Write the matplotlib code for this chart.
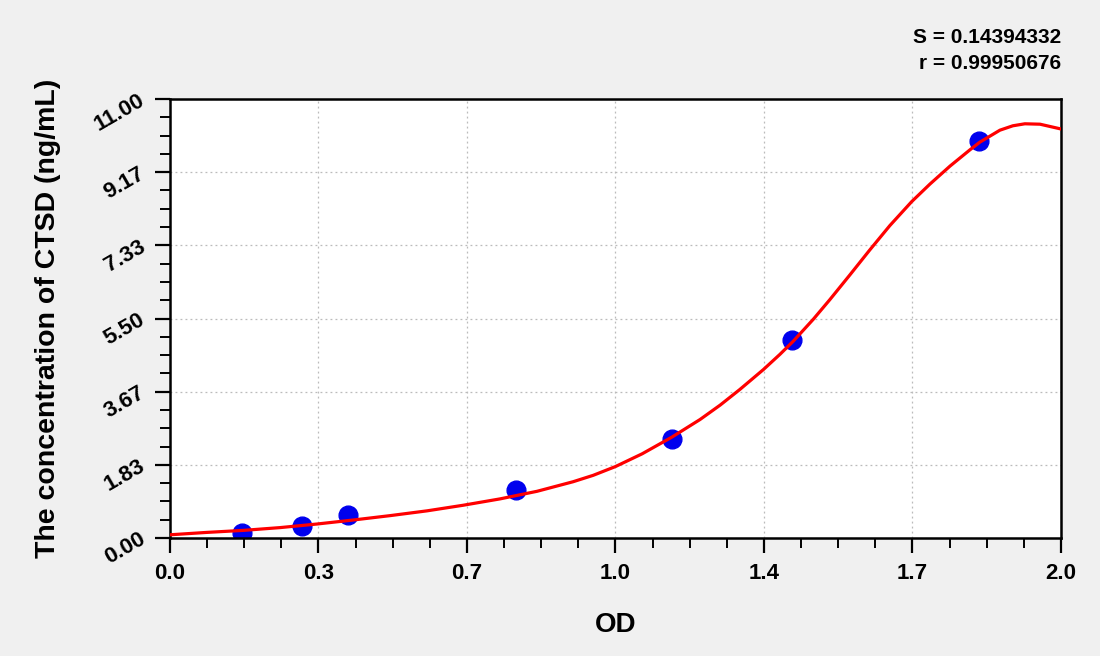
import numpy as np
import matplotlib
matplotlib.use("Agg")
import matplotlib.pyplot as plt
from matplotlib.ticker import AutoMinorLocator

plt.rcParams['font.family'] = ['Liberation Sans', 'DejaVu Sans']
plt.rcParams['font.weight'] = 'bold'
narrow = ['Liberation Sans Narrow', 'Liberation Sans', 'DejaVu Sans']

# standard points (OD, concentration)
od = [0.161, 0.296, 0.399, 0.777, 1.128, 1.396, 1.817]
conc = [0.13, 0.31, 0.58, 1.21, 2.47, 4.96, 9.96]

# fitted curve
curve_x = [0.0, 0.083, 0.164, 0.247, 0.330, 0.411, 0.494, 0.577, 0.658,
           0.741, 0.824, 0.905, 0.950, 1.0, 1.060, 1.127, 1.190, 1.235,
           1.279, 1.332, 1.369, 1.399, 1.444, 1.481, 1.526, 1.571, 1.616,
           1.665, 1.706, 1.751, 1.796, 1.818, 1.863, 1.892, 1.919, 1.953,
           2.0]
curve_y = [0.08, 0.14, 0.19, 0.26, 0.35, 0.45, 0.56, 0.68, 0.82,
           0.98, 1.17, 1.41, 1.57, 1.79, 2.11, 2.53, 2.97, 3.33,
           3.72, 4.22, 4.60, 4.93, 5.48, 5.97, 6.59, 7.22, 7.83,
           8.43, 8.87, 9.32, 9.73, 9.92, 10.22, 10.33, 10.38, 10.37,
           10.25]

xticks = [0, 1/3, 2/3, 1, 4/3, 5/3, 2]
xlabels = ['0.0', '0.3', '0.7', '1.0', '1.4', '1.7', '2.0']
yticks = [0, 11/6, 11/3, 5.5, 22/3, 55/6, 11]
ylabels = ['0.00', '1.83', '3.67', '5.50', '7.33', '9.17', '11.00']

fig = plt.figure(figsize=(11, 6.56), dpi=100, facecolor='#f0f0f0')
ax = fig.add_axes([0.1545, 0.1799, 0.81, 0.6691])
ax.set_facecolor('white')

ax.plot(curve_x, curve_y, color='#ff0000', lw=2.3, zorder=3)
ax.plot(od, conc, 'o', color='#0000ee', ms=13.5, zorder=2)

ax.set_xlim(0, 2)
ax.set_ylim(0, 11)
ax.set_xticks(xticks)
ax.set_xticklabels(xlabels, fontsize=16, fontweight='bold', family=narrow)
ax.set_yticks(yticks)
ax.set_yticklabels(ylabels, fontsize=16, fontweight='bold', family=narrow,
                   rotation=30, ha='right', va='center',
                   rotation_mode='anchor')
ax.xaxis.set_minor_locator(AutoMinorLocator(4))
ax.yaxis.set_minor_locator(AutoMinorLocator(4))
ax.tick_params(which='major', direction='out', length=11, width=1.6, pad=7)
ax.tick_params(which='minor', direction='out', length=7, width=1.4)
ax.tick_params(axis='y', which='major', pad=8)

for s in ax.spines.values():
    s.set_linewidth(1.8)
    s.set_color('black')

ax.grid(True, which='major', ls=(0, (1.5, 2.5)), color='#bbbbbb', lw=0.9)
ax.set_axisbelow(True)

ax.set_xlabel('OD', fontsize=20, fontweight='bold', labelpad=20)
ax.set_ylabel('The concentration of CTSD (ng/mL)', fontsize=20.5,
              fontweight='bold', labelpad=22)

fig.text(0.9645, 0.943, 'S = 0.14394332', ha='right', va='center',
         fontsize=15, fontweight='bold', family=narrow)
fig.text(0.9645, 0.903, 'r = 0.99950676', ha='right', va='center',
         fontsize=15, fontweight='bold', family=narrow)

fig.savefig('out.png', dpi=100, facecolor=fig.get_facecolor())
